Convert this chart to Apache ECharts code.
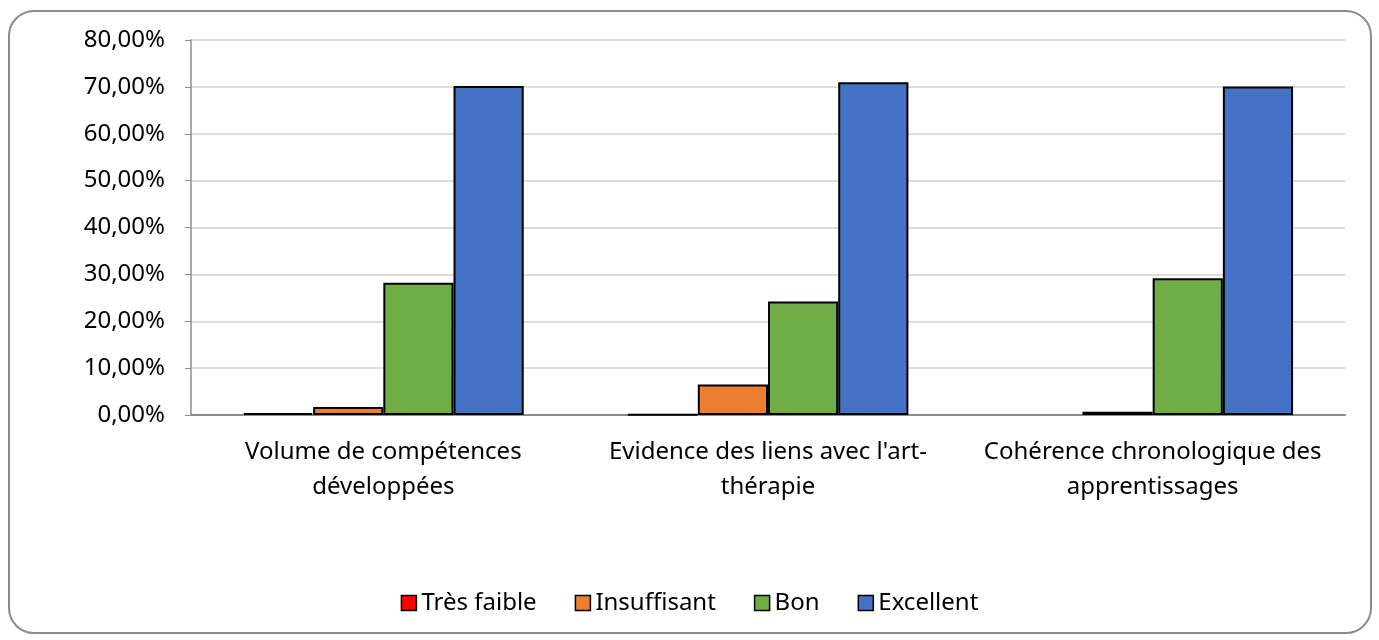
<!DOCTYPE html>
<html>
<head>
<meta charset="utf-8">
<script src="https://cdn.jsdelivr.net/npm/echarts@6/dist/echarts.min.js"></script>
<style>
  html, body { margin: 0; padding: 0; background: #fff; }
  .frame {
    position: absolute; left: 8px; top: 10px; width: 1360px; height: 620px;
    border: 2px solid #8c8c8c; border-radius: 26px;
  }
  #chart { position: absolute; left: 0; top: 0; width: 1379px; height: 640px; }
</style>
</head>
<body>
<div class="frame"></div>
<div id="chart"></div>
<script>
// categories (x axis)
const categories = [
  'Volume de compétences\ndéveloppées',
  "Evidence des liens avec l'art-\nthérapie",
  'Cohérence chronologique des\napprentissages'
]
// series values, in %
const tresFaible = [0.4, 0.1, 0]
const insuffisant = [1.7, 6.5, 0.7]
const bon = [28.2, 24.2, 29.2]
const excellent = [70.2, 71.0, 70.1]

const font = "'Noto Sans', 'Open Sans', sans-serif"

// a 0 value draws no bar at all (not even a border line)
const mkSeries = (name, data, color) => ({
  name,
  type: 'bar',
  data: data.map(v => (v === 0 ? '-' : v)),
  barGap: 0,
  barCategoryGap: '27%',
  itemStyle: {
    color,
    borderColor: '#000',
    borderWidth: 2
  }
})

const chart = echarts.init(document.querySelector('#chart'))
chart.setOption({
  animation: false,
  textStyle: { fontFamily: font },
  grid: { left: 191, right: 34, top: 40, bottom: 225 },
  legend: {
    top: 586,
    left: 'center',
    itemWidth: 15,
    itemHeight: 15,
    itemGap: 38,
    icon: 'rect',
    textStyle: { fontSize: 24, color: '#000', fontFamily: font },
    itemStyle: { borderColor: '#000', borderWidth: 1.5 },
    data: ['Très faible', 'Insuffisant', 'Bon', 'Excellent']
  },
  xAxis: {
    type: 'category',
    data: categories,
    axisLine: { lineStyle: { color: '#8c8c8c', width: 2 } },
    axisTick: { show: false },
    axisLabel: {
      color: '#000',
      fontSize: 24,
      lineHeight: 35,
      margin: 20,
      fontFamily: font,
      interval: 0
    }
  },
  yAxis: {
    type: 'value',
    min: 0,
    max: 80,
    interval: 10,
    axisLine: { show: true, lineStyle: { color: '#8c8c8c', width: 1.5 } },
    axisTick: { show: true, length: 6, lineStyle: { color: '#8c8c8c' } },
    splitLine: { lineStyle: { color: '#d0d0d0', width: 1.5 } },
    axisLabel: {
      color: '#000',
      fontSize: 24,
      margin: 26,
      fontFamily: font,
      formatter: v => v.toFixed(2).replace('.', ',') + '%'
    }
  },
  series: [
    mkSeries('Très faible', tresFaible, '#ff0000'),
    mkSeries('Insuffisant', insuffisant, '#ed7d31'),
    mkSeries('Bon', bon, '#70ad47'),
    mkSeries('Excellent', excellent, '#4472c4')
  ]
})
</script>
</body>
</html>
